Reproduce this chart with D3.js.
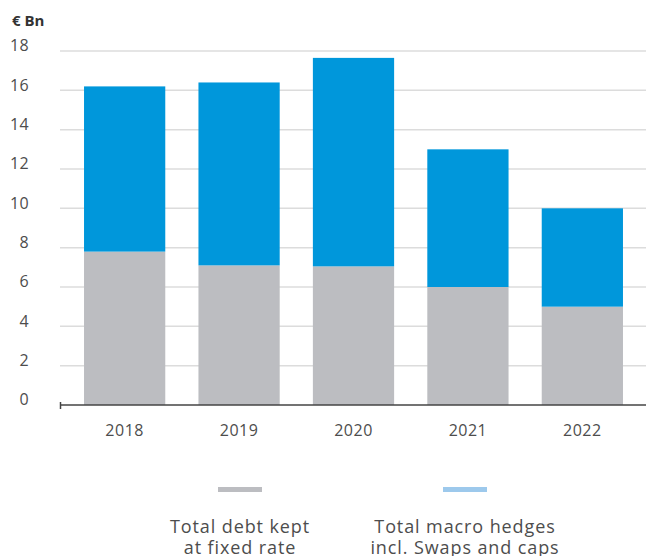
<!DOCTYPE html>
<html>
<head>
<meta charset="utf-8">
<script src="https://cdn.jsdelivr.net/npm/d3@7"></script>
<style>
  body { margin: 0; background: #fff; }
  svg text { font-family: "Open Sans", sans-serif; }
</style>
</head>
<body>
<div id="debt-chart"></div>
<script>
// values (EUR bn)
var years = ["2018", "2019", "2020", "2021", "2022"];
var fixedDebt = [7.8, 7.1, 7.05, 6.0, 5.0];
var macroHedges = [8.4, 9.3, 10.6, 7.0, 5.0];
var yTicks = [0, 2, 4, 6, 8, 10, 12, 14, 16, 18];
var seriesKeys = ["fixed", "hedges"];
var legendLabels = [["Total debt kept", "at fixed rate"], ["Total macro hedges", "incl. Swaps and caps"]];

var barColors = { fixed: "#bcbdc1", hedges: "#0097db" };
var legendColors = ["#bcbdc1", "#9dc9ec"];

drawDebtChart();

function drawDebtChart() {
    var width = 646, height = 556;

    var rows = years.map(function (d, i) {
        return { year: d, fixed: fixedDebt[i], hedges: macroHedges[i] };
    });

    var svg = d3.select("#debt-chart").append("svg")
        .attr("width", width)
        .attr("height", height);

    var x = d3.scaleBand()
        .domain(years)
        .range([60, 647])
        .paddingInner(0.29)
        .paddingOuter(0.21);

    var y = d3.scaleLinear()
        .domain([0, 18])
        .range([405, 51]);

    // gridlines
    svg.append("g")
        .selectAll("line")
        .data(yTicks.filter(function (d) { return d > 0; }))
        .enter().append("line")
        .attr("x1", 60)
        .attr("x2", width)
        .attr("y1", function (d) { return y(d); })
        .attr("y2", function (d) { return y(d); })
        .attr("stroke", "#dcdcdc")
        .attr("stroke-width", 1.5);

    // y labels
    var yAxis = svg.append("g")
        .attr("transform", "translate(29,0)")
        .call(d3.axisLeft(y).tickValues(yTicks).tickSize(0).tickPadding(0));
    yAxis.select(".domain").remove();
    yAxis.selectAll(".tick text")
        .attr("dy", "-0.02em")
        .attr("font-family", "Open Sans, sans-serif")
        .attr("font-size", "16px")
        .attr("letter-spacing", "0.3px")
        .attr("fill", "#4d4d4d");

    svg.append("text")
        .attr("x", 12)
        .attr("y", 26)
        .attr("font-size", "15px")
        .attr("font-weight", "bold")
        .attr("fill", "#333")
        .text("€ Bn");

    // stacked bars
    var stacked = d3.stack().keys(seriesKeys)(rows);
    svg.append("g")
        .selectAll("g")
        .data(stacked)
        .enter().append("g")
        .attr("fill", function (d) { return barColors[d.key]; })
        .selectAll("rect")
        .data(function (d) { return d; })
        .enter().append("rect")
        .attr("x", function (d) { return x(d.data.year); })
        .attr("width", x.bandwidth())
        .attr("y", function (d) { return y(d[1]); })
        .attr("height", function (d) { return y(d[0]) - y(d[1]); });

    // x axis
    var xAxis = svg.append("g")
        .attr("transform", "translate(0," + y(0) + ")")
        .call(d3.axisBottom(x).tickSize(0).tickPadding(20));
    xAxis.select(".domain").remove();
    xAxis.selectAll(".tick text")
        .attr("font-family", "Open Sans, sans-serif")
        .attr("font-size", "16px")
        .attr("letter-spacing", "0.5px")
        .attr("fill", "#4d4d4d");
    xAxis.append("line")
        .attr("x1", 60).attr("x2", width)
        .attr("y1", 0).attr("y2", 0)
        .attr("stroke", "#444")
        .attr("stroke-width", 1.5);
    xAxis.append("line")
        .attr("x1", 60.5).attr("x2", 60.5)
        .attr("y1", -3).attr("y2", 4)
        .attr("stroke", "#444")
        .attr("stroke-width", 1.5);

    // legend
    var legendX = [240, 465];
    var legend = svg.append("g")
        .selectAll("g")
        .data(legendLabels)
        .enter().append("g")
        .attr("transform", function (d, i) { return "translate(" + legendX[i] + ",0)"; });

    legend.append("rect")
        .attr("x", -22)
        .attr("y", 487)
        .attr("width", 44)
        .attr("height", 5)
        .attr("fill", function (d, i) { return legendColors[i]; });

    legend.append("text")
        .attr("text-anchor", "middle")
        .attr("font-size", "18px")
        .attr("letter-spacing", "0.9px")
        .attr("fill", "#4d4d4d")
        .selectAll("tspan")
        .data(function (d) { return d; })
        .enter().append("tspan")
        .attr("x", 0)
        .attr("y", function (d, i) { return 533 + i * 21; })
        .text(function (d) { return d; });
}
</script>
</body>
</html>
